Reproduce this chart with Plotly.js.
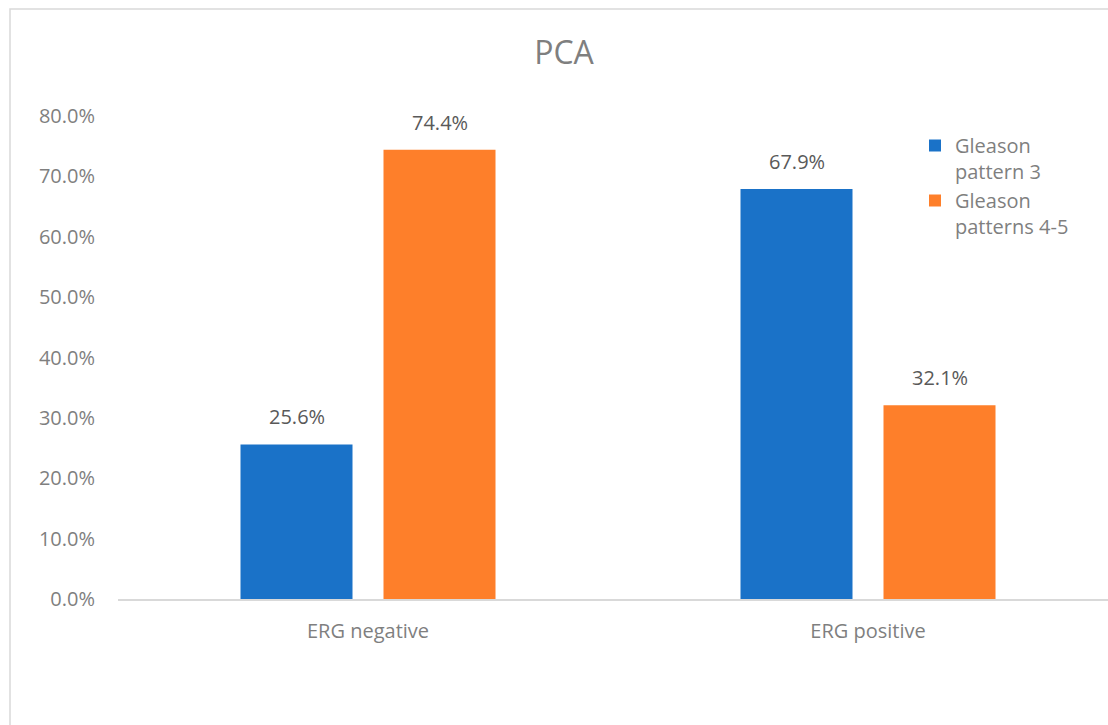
<!DOCTYPE html>
<html>
<head>
<meta charset="utf-8">
<script src="https://cdn.plot.ly/plotly-3.0.1.min.js"></script>
<style>html,body{margin:0;padding:0;background:#fff;}#chart{width:1108px;height:725px;}</style>
</head>
<body>
<div id="chart"></div>
<script>
const categories = ["ERG negative", "ERG positive"];
const seriesNames = ["Gleason<br>pattern 3", "Gleason<br>patterns 4-5"];
const pattern3 = [25.6, 67.9];
const patterns45 = [74.4, 32.1];
const yTicks = [0, 10, 20, 30, 40, 50, 60, 70, 80];

const FONT = "Open Sans, Liberation Sans, sans-serif";
const GRAY = "#7f7f7f";
const LABEL = "#595959";

const traces = [
  {type: "bar", name: seriesNames[0], x: categories, y: pattern3,
   marker: {color: "#1a72c8"}, width: 0.224, offset: -0.255, hoverinfo: "none"},
  {type: "bar", name: seriesNames[1], x: categories, y: patterns45,
   marker: {color: "#fe7f2a"}, width: 0.224, offset: 0.031, hoverinfo: "none"}
];

const annotations = [];
[[pattern3, -71.5], [patterns45, 71.5]].forEach(([vals, shift]) => {
  vals.forEach((v, i) => {
    annotations.push({xref: "x", yref: "y", x: categories[i], y: v, xshift: shift, yshift: 12,
      text: v.toFixed(1) + "%", showarrow: false, xanchor: "center", yanchor: "bottom",
      font: {family: FONT, size: 20, color: LABEL}});
  });
});

const layout = {
  width: 1108, height: 725,
  paper_bgcolor: "#fff", plot_bgcolor: "#fff",
  margin: {l: 118, r: 0, t: 116, b: 126},
  font: {family: FONT, color: GRAY, size: 20},
  title: {text: "PCA", x: 564/1108, xanchor: "center", y: 1 - 53/725, yanchor: "middle",
          font: {family: FONT, size: 32, color: GRAY}},
  barmode: "group",
  xaxis: {range: [-0.5, 1.48], showline: true, linecolor: "#d9d9d9", linewidth: 1.5,
          ticks: "outside", ticklen: 13, tickcolor: "rgba(0,0,0,0)", showgrid: false, zeroline: false,
          tickfont: {family: FONT, size: 20, color: GRAY}, fixedrange: true},
  yaxis: {range: [0, 80], tickvals: yTicks, ticktext: yTicks.map(v => v.toFixed(1) + "%"),
          showgrid: false, zeroline: false, showline: false,
          ticks: "outside", ticklen: 18, tickcolor: "rgba(0,0,0,0)",
          tickfont: {family: FONT, size: 20, color: GRAY}, fixedrange: true},
  legend: {x: (915 - 118)/990, xanchor: "left", y: (599 - 126)/483, yanchor: "top",
           valign: "top", font: {family: FONT, size: 20, color: GRAY},
           bgcolor: "rgba(0,0,0,0)", itemwidth: 30, tracegroupgap: 0},
  annotations: annotations,
  shapes: [{type: "rect", xref: "paper", yref: "paper",
            x0: (10 - 118)/990, x1: (1120 - 118)/990, y0: (599 - 740)/483, y1: (599 - 9)/483,
            line: {color: "#d9d9d9", width: 1.5}, fillcolor: "rgba(0,0,0,0)", layer: "below"}],
  showlegend: true
};

Plotly.newPlot("chart", traces, layout, {displayModeBar: false, staticPlot: true});
</script>
</body>
</html>
